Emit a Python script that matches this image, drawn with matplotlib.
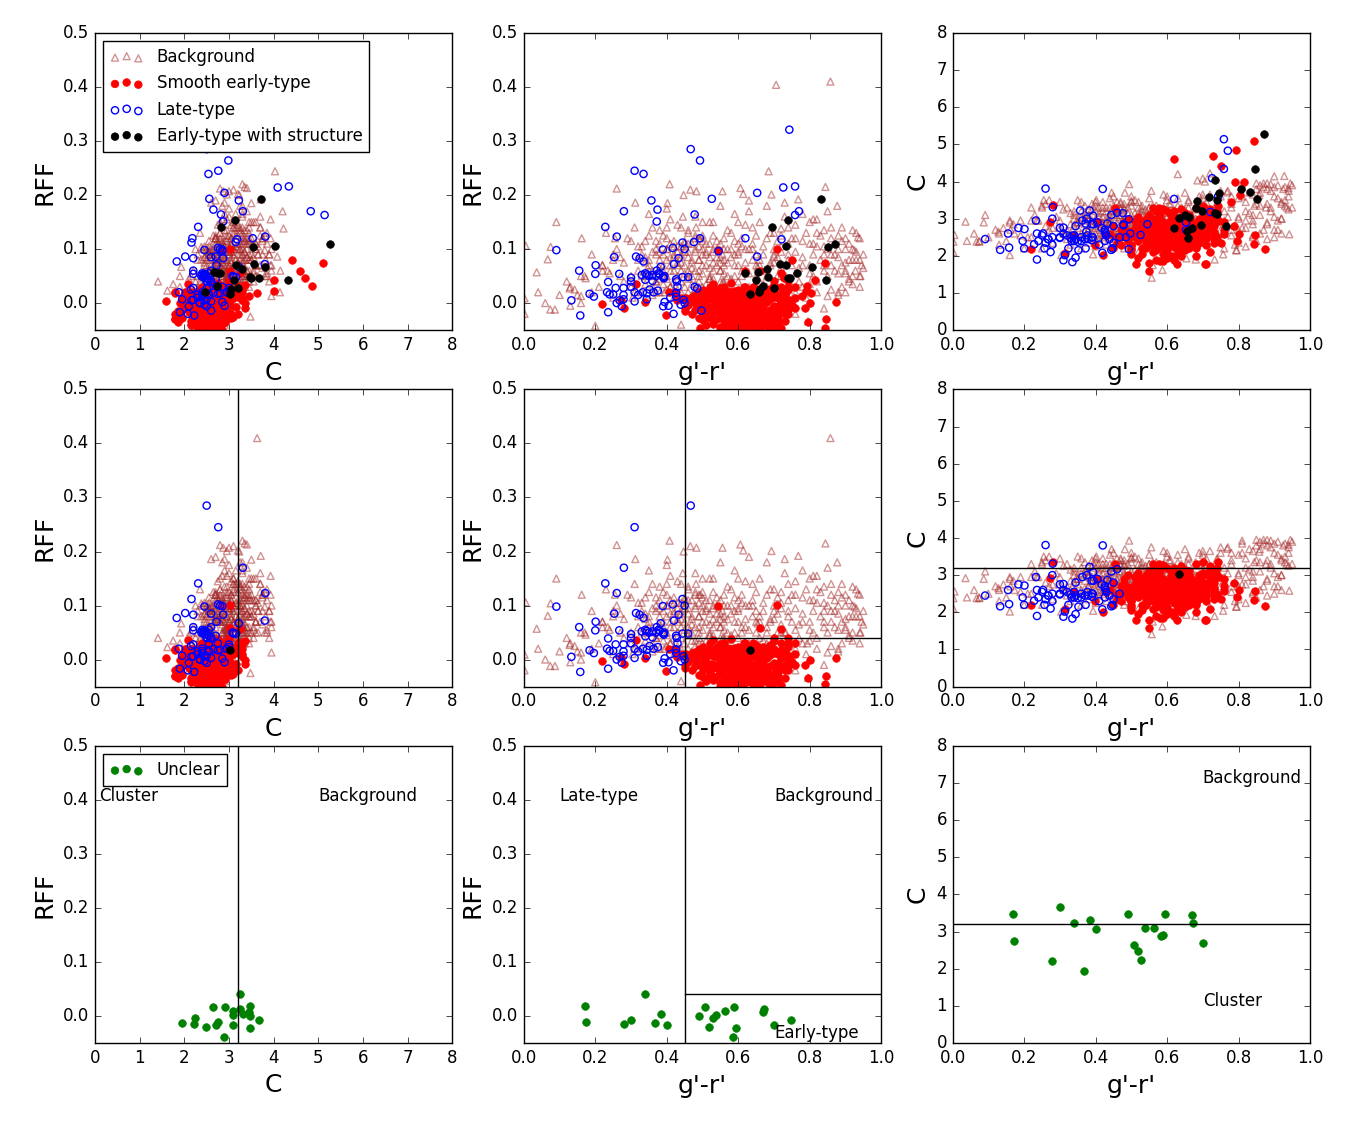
import matplotlib
matplotlib.use("Agg")
import matplotlib.pyplot as plt
import numpy as np

plt.style.use("classic")
plt.rcParams["font.family"] = ["DejaVu Sans"]

bg_gr = [
 .706,.858,.685,.408,.26,.466,.483,.447,.556,.606,
 .614,.693,.768,.844,.312,.402,.73,.877,.091,.036,
 .067,.075,.005,.162,.074,.087,.002,.002,.2,.128,
 .142,.16,.173,.795,.92,.935,.925,.94,.928,.942,
 .63,.494,.445,.482,.556,.88,.89,.557,.587,.733,
 .654,.757,.793,.16,.304,.393,.70,.90,.85,.81,
 .72,.945,.95,.13,.16,.22,.235,.255,.25,.34,
 .21,.24,.27,.29,.31,.33,.35,.37,.38,.39,
 .40,.41,.42,.43,.44,.45,.46,.47,.48,.49,
 .50,.51,.52,.53,.54,.55,.56,.57,.58,.59,
 .60,.61,.62,.63,.64,.65,.66,.67,.68,.69,
 .70,.71,.72,.73,.74,.75,.76,.77,.78,.79,
 .80,.81,.82,.83,.84,.85,.86,.87,.88,.89,
 .90,.91,.92,.93,.94,.95,.90,.88,.86,.84,
 .15,.17,.19,.22,.25,.28,.30,.32,.34,.36,
 .37,.38,.39,.40,.41,.42,.43,.44,.45,.46,
 .47,.48,.49,.50,.51,.52,.53,.54,.55,.56,
 .57,.58,.59,.60,.61,.62,.63,.64,.65,.66,
 .67,.68,.69,.70,.71,.72,.73,.74,.75,.76,
 .77,.78,.79,.80,.81,.82,.83,.84,.85,.86,
 .87,.88,.89,.90,.91,.92,.93,.94,.78,.82,
 .35,.37,.39,.41,.43,.45,.47,.49,.51,.53,
 .36,.38,.40,.42,.44,.46,.48,.50,.52,.54,
 .55,.57,.59,.61,.63,.65,.67,.69,.71,.73,
 .04,.06,.10,.12,.13,.19,.23,.26,.28,.31,
 .33,.35,.38,.41,.44,.47,.50,.53,.56,.59,
 .45,.48,.52,.56,.60,.64,.68,.72,.76,.80,
 .50,.44,.80,.84,.88,.92,.76,.72,.68,.64,
 .78,.81,.84,.87,.89,.91,.93,.82,.86,.90,
 .35,.40,.45,.50,.55,.60,.65,.70,.75,.80,
 .22,.25,.27,.30,.33,.36,.40,.43,.46,.49,
 .33,.35,.37,.39,.41,.43,.45,.47,.49,.51,
 .34,.36,.38,.40,.42,.44,.46,.48,.50,.52,
 .53,.55,.57,.59,.61,.63,.65,.53,.56,.60,
 .40,.42,.44,.46,.48,.50,.52,.54,.56,.58,
 .38,.41,.43,.45,.47,.49,.51,.53,.55,.57,
 .37,.39,.42,.44,.46,.48,.50,.52,.54,.56,
 .60,.62,.64,.66,.68,.70,.72,.74,.76,.78,
 .58,.60,.62,.64,.66,.68,.70,.72,.74,.76,
 .82,.84,.86,.88,.90,.92,.94,.80,.85,.91,
 .30,.32,.34,.36,.38,.40,.42,.44,.46,.48,
 .36,.39,.41,.43,.45,.47,.49,.51,.53,.55,
 .32,.34,.37,.40,.43,.46,.49,.52,.55,.58,
]
bg_rff = [
 .404,.41,.244,.22,.212,.21,.207,.2,.207,.213,
 .202,.201,.192,.215,.186,.185,.186,.18,.15,.057,
 .081,.104,.106,.12,-.012,-.012,.009,-.02,-.042,.027,
 .025,.013,.046,-.034,.135,.122,.098,.08,.06,.05,
 .17,.12,.16,.14,.09,.10,.07,.04,.023,.05,
 .067,.01,.03,.0,.01,.02,.086,.02,.013,.155,
 .138,.07,.09,.03,.05,.07,.06,.12,.09,.05,
 .03,.055,.085,.12,.02,.105,.165,.04,.135,.07,
 .175,.03,.09,.145,.06,.115,.02,.08,.16,.04,
 .125,.07,.15,.03,.10,.18,.055,.135,.085,.165,
 .04,.12,.075,.19,.10,.05,.15,.09,.18,.07,
 .13,.05,.105,.16,.08,.03,.145,.065,.115,.01,
 .15,.09,.04,.125,.07,.17,.025,.11,.055,.14,
 .10,.045,.08,.13,.03,.065,.12,.015,.09,.105,
 .015,.05,.02,.07,.01,.04,.115,.06,.085,.14,
 .10,.065,.125,.045,.155,.085,.025,.105,.07,.135,
 .05,.095,.03,.07,.11,.045,.125,.085,.06,.10,
 .075,.045,.115,.09,.06,.145,.03,.08,.125,.04,
 .105,.06,.13,.04,.085,.125,.02,.11,.07,.095,
 .04,.085,.13,.055,.11,.02,.08,.135,.05,.12,
 .09,.125,.03,.075,.11,.05,.095,.12,.165,.155,
 .07,.09,.05,.11,.075,.095,.065,.12,.09,.075,
 .03,.11,.08,.06,.14,.045,.10,.055,.085,.115,
 .04,.10,.07,.105,.055,.09,.035,.075,.115,.05,
 .02,.0,.015,.04,-.005,.09,.13,.10,.075,.14,
 .05,.125,.02,.06,.085,.11,.03,.15,.12,.05,
 .01,.025,.045,.035,.015,.02,.03,.05,.02,.035,
 -.025,-.04,.0,-.01,.02,.035,-.02,.015,-.015,.005,
 .07,.05,.09,.06,.115,.04,.08,.13,.14,.055,
 .08,.12,.10,.15,.06,.11,.07,.09,.12,.07,
 .06,.08,.05,.03,.09,.06,.10,.05,.13,.08,
 .02,.06,.04,.09,.03,.07,.11,.015,.05,.095,
 .075,.015,.095,.025,.115,.04,.085,.06,.10,.02,
 .06,.11,.03,.09,.05,.10,.02,.095,.08,.07,
 .05,.105,.02,.06,.125,.09,.05,.07,.04,.10,
 .08,.07,.095,.03,.075,.105,.01,.045,.085,.05,
 .115,.035,.04,.075,.095,.035,.115,.065,.02,.07,
 .095,.06,.11,.08,.05,.10,.065,.09,.055,.03,
 .13,.15,.10,.14,.07,.12,.075,.095,.14,.12,
 .105,.06,.07,.085,.06,.10,.05,.11,.10,.08,
 .05,.08,.115,.095,.045,.14,.01,.09,.05,.12,
 .05,.06,.085,.105,.055,.035,.08,.035,.10,.025,
 .105,.035,.02,.10,.015,.11,.06,.11,.075,.02,
]
bg_c = [
 4.0,3.63,4.03,3.3,2.8,3.1,3.0,3.23,2.87,3.4,
 3.2,2.95,3.71,3.35,2.6,3.5,2.9,3.3,3.1,2.92,
 2.38,2.38,2.56,2.7,2.4,2.9,2.38,2.1,2.2,2.65,
 2.75,2.95,2.6,2.15,3.4,3.3,3.8,3.82,4.15,2.58,
 4.2,3.93,3.7,3.7,3.75,3.95,3.93,1.41,1.62,1.9,
 1.93,2.04,2.15,2.02,2.02,2.04,4.08,4.14,3.95,3.93,
 4.22,3.95,3.9,2.6,2.9,2.95,2.95,3.5,3.3,3.1,
 2.5,2.95,2.7,3.05,2.6,3.15,2.9,2.5,3.25,2.8,
 3.0,2.55,3.2,2.75,2.95,3.35,2.6,2.85,3.3,2.7,
 3.1,2.9,3.45,2.65,3.25,2.85,3.0,3.35,2.75,3.15,
 2.9,3.4,3.05,2.7,3.3,2.95,3.5,3.1,3.25,3.6,
 2.8,3.3,3.65,3.0,3.45,2.7,3.2,3.75,2.55,2.3,
 3.55,2.75,2.25,3.7,3.1,3.4,2.6,3.85,2.9,3.3,
 3.6,2.95,3.45,3.85,3.25,3.3,2.7,2.45,3.9,2.85,
 2.4,2.85,2.95,2.5,2.2,2.35,2.75,3.3,2.45,3.45,
 2.65,3.1,2.95,3.35,2.85,2.6,3.2,3.0,2.45,2.9,
 3.4,2.55,3.15,2.8,3.5,2.95,2.7,3.05,3.3,2.6,
 2.85,3.2,2.95,3.5,2.7,3.05,3.35,2.6,3.15,3.45,
 2.75,3.0,3.3,3.55,2.9,3.2,2.6,3.4,3.6,2.85,
 3.05,3.4,2.8,2.45,3.6,2.75,3.15,2.95,3.8,3.35,
 2.7,3.8,3.2,3.05,3.55,2.6,3.35,3.75,3.3,2.95,
 2.75,2.85,2.6,3.05,3.3,2.7,3.1,2.8,3.0,3.2,
 3.2,2.7,2.9,3.45,3.1,2.75,3.25,3.35,2.65,2.9,
 2.95,3.1,3.3,2.8,3.55,3.25,2.9,2.85,3.45,3.15,
 2.4,2.6,2.5,2.7,2.3,2.55,3.1,3.4,2.75,3.25,
 2.85,3.0,2.35,3.15,3.55,3.45,2.45,3.1,2.95,3.65,
 2.25,2.2,2.1,1.75,1.95,2.05,1.9,2.15,2.2,2.35,
 3.48,2.91,2.7,2.5,2.85,3.0,2.6,2.4,2.55,3.2,
 3.6,3.85,3.65,3.95,3.75,3.9,3.5,3.45,3.7,3.85,
 3.5,3.45,3.6,3.6,3.55,3.6,3.7,3.65,3.75,3.0,
 3.3,3.35,3.5,3.45,2.3,2.2,2.25,2.3,2.35,2.3,
 2.6,2.9,3.1,2.5,2.8,3.0,3.2,2.55,3.3,2.6,
 3.2,2.6,3.0,2.75,3.3,2.5,2.85,3.4,2.7,3.15,
 2.55,3.3,2.75,3.0,3.15,2.85,2.7,3.35,3.05,2.65,
 2.6,3.05,2.85,3.2,2.65,3.45,3.0,2.8,3.35,2.55,
 2.95,2.7,2.55,3.1,3.3,2.9,2.75,3.25,2.6,3.0,
 3.35,3.25,2.5,2.75,3.05,2.9,2.85,3.3,2.7,3.2,
 3.05,2.95,2.75,3.3,3.35,3.1,2.85,2.55,2.95,2.7,
 3.25,2.8,3.2,3.1,2.6,2.7,3.2,3.0,3.15,2.7,
 3.2,2.55,3.1,3.4,2.5,3.0,3.6,3.05,2.4,2.7,
 2.95,2.7,2.8,3.05,2.7,3.2,2.9,3.3,3.45,3.05,
 2.5,3.4,2.45,2.9,2.6,3.25,2.5,3.15,2.5,3.05,
 2.45,3.0,3.0,2.45,2.7,3.25,2.6,2.85,2.45,2.95,
]

red_gr = [
 .842,.793,.728,.619,.75,.79,.815,.805,.778,.743,
 .787,.76,.845,.842,.873,.627,.706,.71,.55,.512,
 .709,.544,.22,.272,.281,.314,.422,.453,.577,.588,
 .46,.48,.50,.52,.54,.56,.58,.60,.62,.64,
 .47,.49,.51,.53,.55,.57,.59,.61,.63,.65,
 .66,.67,.68,.69,.70,.71,.72,.73,.74,.75,
 .44,.45,.50,.52,.55,.58,.60,.62,.64,.66,
 .53,.55,.56,.57,.59,.60,.61,.63,.64,.65,
 .56,.57,.58,.59,.60,.61,.62,.63,.65,.66,
 .67,.68,.69,.70,.71,.72,.62,.60,.58,.54,
 .48,.51,.53,.55,.57,.59,.61,.63,.65,.67,
 .49,.51,.54,.56,.58,.60,.62,.64,.66,.68,
 .52,.53,.54,.57,.59,.61,.63,.65,.67,.69,
 .70,.71,.72,.73,.74,.76,.74,.745,.66,.64,
 .55,.58,.60,.62,.64,.52,.50,.57,.59,.68,
 .56,.60,.64,.68,.72,.74,.73,.70,.66,.62,
 .55,.58,.60,.62,.66,.69,.72,.494,.50,.63,
 .795,.76,.73,.74,.80,.47,.45,.43,.398,.34,
 .58,.53,.66,.72,.494,.407,.72,.70,.56,.616,
 .50,.52,.54,.56,.58,.60,.62,.64,.66,.68,
 .51,.53,.55,.57,.59,.61,.63,.65,.67,.69,
 .57,.59,.61,.63,.65,.67,.69,.71,.73,.49,
 .46,.48,.50,.52,.54,.56,.58,.60,.62,.64,
 .55,.57,.59,.61,.63,.65,.67,.69,.71,.73,
 .52,.54,.56,.58,.60,.62,.64,.66,.68,.70,
 .60,.61,.62,.63,.64,.65,.66,.67,.68,.70,
 .53,.55,.57,.59,.61,.63,.47,.49,.51,.66,
]
red_rff = [
 .075,.031,.046,.059,.079,.023,.043,.018,.013,.0,
 -.01,-.01,-.03,-.046,.002,-.03,-.02,-.03,.003,.02,
 .101,.099,-.002,.005,-.009,.036,.02,.01,.02,.01,
 .005,-.012,.012,-.025,.024,-.004,-.036,.016,-.018,.006,
 -.02,.02,-.006,.01,-.044,.002,.022,-.028,.012,-.041,
 .004,-.03,.016,-.012,.02,-.038,.006,-.02,.03,-.004,
 .01,-.015,-.032,.03,.012,-.012,-.046,.004,-.028,.018,
 -.038,-.022,.022,-.032,-.008,.024,-.014,-.04,.014,-.008,
 -.014,.012,.005,-.044,-.006,.01,-.034,-.006,.026,-.02,
 .012,-.042,.026,-.006,.01,-.016,.018,-.022,.016,-.016,
 .0,-.04,-.008,.004,-.048,.008,-.048,-.016,-.03,-.014,
 -.028,.004,-.03,-.034,-.026,.0,-.008,-.048,-.044,.002,
 .014,.006,.004,-.02,-.016,.006,.024,-.018,-.006,-.026,
 -.044,-.024,.002,-.034,-.012,.01,-.02,.006,-.036,.028,
 .018,-.035,.005,-.02,-.01,-.028,-.008,.0,-.015,.012,
 .026,.012,.03,.006,.018,.024,.016,.034,.022,.03,
 -.05,-.042,-.05,-.044,-.05,-.048,-.047,-.047,-.02,-.03,
 -.035,.03,-.01,.04,.0,.008,-.01,.005,-.022,.002,
 .038,.036,.059,.056,-.01,.02,.03,.04,.03,.03,
 .002,-.018,.016,-.028,.01,-.02,.008,-.03,.0,-.024,
 -.012,.018,-.006,.02,-.036,.014,-.026,.012,-.022,.016,
 -.008,-.03,-.002,.002,-.012,-.038,.008,-.006,.014,.01,
 -.004,.014,.024,-.008,-.014,.008,-.004,-.038,.022,-.014,
 .028,-.024,.012,-.016,-.034,.004,.024,-.034,-.014,.004,
 -.02,.008,-.042,.02,.006,-.012,.018,-.026,-.018,.012,
 -.01,-.026,-.04,.014,-.02,-.034,.01,.006,.01,-.03,
 -.016,-.01,.014,.0,-.042,-.022,.012,-.006,.016,-.012,
]
red_c = [
 5.1,4.85,4.7,4.6,4.42,4.0,4.0,3.63,3.44,3.35,
 2.79,2.58,2.56,2.33,2.17,1.78,1.78,1.78,1.58,1.78,
 3.03,2.85,2.19,2.92,3.36,2.08,2.01,3.29,3.3,3.27,
 2.35,2.6,2.2,2.75,2.45,2.1,2.9,2.5,2.25,2.8,
 2.7,2.4,2.95,2.05,2.55,3.0,2.3,2.65,2.85,2.15,
 2.4,2.6,2.2,2.9,2.55,2.3,2.75,2.45,2.95,2.35,
 2.6,2.8,2.3,2.85,3.1,2.4,2.7,2.0,3.05,2.65,
 2.2,2.95,2.3,2.5,2.75,2.85,2.35,2.6,2.4,3.15,
 2.7,2.25,2.55,2.8,2.15,3.1,2.45,2.9,2.5,2.2,
 2.9,2.75,2.35,3.05,2.6,2.1,3.0,2.35,2.65,2.5,
 2.9,2.5,2.65,2.3,2.35,2.05,2.55,2.7,2.75,2.45,
 2.55,2.7,2.85,2.45,3.1,2.6,2.5,2.3,2.65,2.5,
 2.45,2.9,2.2,3.2,2.3,2.0,2.4,2.85,2.3,2.6,
 2.8,2.5,2.95,2.65,2.4,2.7,2.5,2.95,2.9,2.7,
 1.8,1.85,1.95,1.9,2.0,1.95,2.05,1.9,1.85,2.0,
 3.3,3.2,3.25,3.3,3.15,3.2,3.1,3.35,3.1,3.2,
 2.6,2.5,2.75,2.4,2.85,2.55,2.7,2.65,2.15,2.55,
 2.4,2.9,2.8,3.0,2.6,2.5,2.2,2.55,2.3,2.55,
 2.75,2.6,3.02,3.25,2.5,2.9,2.8,3.0,2.5,2.4,
 2.3,2.55,2.8,2.95,2.35,2.7,3.05,2.45,2.85,2.25,
 2.75,2.6,2.4,2.15,2.65,2.4,2.55,2.95,2.5,2.75,
 2.85,2.2,2.9,2.35,2.6,2.85,3.0,2.45,2.55,2.65,
 2.5,2.75,2.65,2.4,3.0,2.8,2.25,2.45,2.6,2.7,
 2.6,2.7,2.45,3.0,2.15,2.3,2.55,2.4,2.8,2.35,
 3.05,2.35,2.55,2.95,2.3,2.85,2.6,2.5,2.4,2.7,
 2.5,2.55,2.7,2.45,2.65,2.75,2.6,2.4,2.8,2.65,
 2.5,2.7,2.6,2.9,2.8,2.4,2.3,3.0,2.55,2.55,
]

late_gr = [
 .743,.467,.493,.31,.335,.726,.759,.653,.526,.357,
 .28,.374,.478,.77,.759,.372,.228,.26,.62,.721,
 .493,.476,.444,.417,.45,.389,.091,.545,.253,.653,
 .314,.324,.335,.433,.42,.201,.2,.155,.267,.383,
 .372,.377,.393,.392,.344,.34,.36,.30,.30,.236,
 .428,.426,.444,.46,.478,.485,.257,.279,.3,.233,
 .24,.25,.184,.196,.133,.158,.236,.497,.419,.39,
 .405,.439,.447,.394,.426,.426,.375,.352,.363,.344,
 .333,.32,.31,.31,.344,.279,.279,.274,.26,.268,
 .36,.37,.38,.35,.39,.34,.33,.41,.43,.45,
]
late_rff = [
 .321,.285,.264,.245,.239,.214,.216,.204,.193,.19,
 .17,.173,.164,.17,.163,.151,.141,.123,.12,.118,
 .12,.113,.112,.102,.10,.099,.098,.096,.085,.086,
 .086,.083,.077,.083,.072,.07,.054,.06,.054,.067,
 .06,.055,.05,.046,.053,.043,.041,.047,.04,.039,
 .04,.044,.048,.048,.03,.027,.028,.028,.03,.02,
 .016,.016,.017,.012,.005,-.023,-.017,-.014,-.02,-.006,
 -.005,-.003,.006,.002,.019,.012,.023,.025,.02,.018,
 .02,.015,.02,.003,.007,.015,.007,-.006,.0,.005,
 .052,.05,.053,.05,.048,.055,.052,.01,.03,.0,
]
late_c = [
 3.6,2.5,2.985,2.76,2.54,4.09,4.34,2.9,2.56,3.22,
 3.31,2.65,2.82,4.83,5.14,2.87,2.31,3.81,3.53,3.18,
 2.18,3.15,2.16,2.75,2.8,2.85,2.45,2.85,2.6,2.7,
 2.02,2.2,1.83,2.87,3.8,2.72,2.2,2.6,2.45,3.22,
 2.2,2.55,3.08,2.5,2.45,2.55,2.5,2.48,2.5,2.6,
 2.6,2.7,3.1,3.16,2.85,2.5,2.2,3.0,2.75,2.95,
 2.4,2.55,2.75,2.4,2.16,2.22,1.9,2.6,2.08,2.5,
 2.9,2.45,2.2,2.85,2.65,2.4,3.0,2.15,2.95,2.8,
 2.4,2.55,1.88,2.6,1.95,2.3,2.5,2.1,2.35,2.45,
 2.4,2.45,2.45,2.38,2.42,2.4,2.48,2.3,2.55,2.35,
]

struct_gr = [.833,.74,.695,.871,.733,.851,.717,.733,.807,.681,.765,.656,
             .62,.684,.74,.746,.846,.65,.67,.661,.659,.699,.634]
struct_rff = [.192,.153,.14,.109,.105,.104,.072,.07,.066,.063,.056,.057,
              .055,.049,.047,.046,.042,.042,.031,.026,.02,.027,.017]
struct_c = [3.71,3.13,2.83,5.27,4.04,3.53,3.57,3.16,3.81,3.3,2.79,2.67,
            2.76,3.47,3.5,3.68,4.33,3.11,2.74,3.05,2.47,3.2,3.03]

unclear_gr = [.17,.173,.279,.301,.34,.385,.368,.402,.491,.508,.519,
              .528,.537,.564,.589,.584,.594,.673,.67,.70,.748]
unclear_rff = [.0185,-.011,-.015,-.007,.041,.004,-.013,-.017,.0,.017,-.02,
               -.004,.002,.009,.017,-.039,-.022,.013,.007,-.017,-.007]
unclear_c = [3.48,2.75,2.21,3.67,3.24,3.32,1.94,3.08,3.48,2.64,2.48,
             2.24,3.1,3.1,2.91,2.89,3.48,3.24,3.45,2.7,np.nan]

C_CUT = 3.2
GR_CUT = 0.45
RFF_CUT = 0.04


def arr(*lists):
    n = min(len(v) for v in lists)
    return [np.array(v[:n], dtype=float) for v in lists]


BG = arr(bg_gr, bg_rff, bg_c)
RED = arr(red_gr, red_rff, red_c)
LATE = arr(late_gr, late_rff, late_c)
STRUCT = arr(struct_gr, struct_rff, struct_c)
UNCLEAR = arr(unclear_gr, unclear_rff, unclear_c)


def sel(d, mask):
    return [v[mask] for v in d]


BG2 = sel(BG, BG[2] <= 3.95)
RED2 = sel(RED, RED[2] < 3.4)
LATE2 = sel(LATE, (LATE[0] < 0.47) & ~((LATE[1] > 0.13) & (LATE[0] > 0.33) & (LATE[0] < 0.45)))
STRUCT2 = sel(STRUCT, STRUCT[1] < 0.018)

fig, axes = plt.subplots(3, 3, figsize=(13.5, 11.22), dpi=100, facecolor="white")
fig.subplots_adjust(left=95/1350, right=1310/1350, top=1-33/1122, bottom=1-1043/1122,
                    wspace=0.2, hspace=0.2)


def style(ax, kind):
    if kind == "rc":
        ax.set_xlim(0, 8); ax.set_ylim(-0.05, 0.5)
        ax.set_xlabel("C", fontsize=18); ax.set_ylabel("RFF", fontsize=18)
    elif kind == "rg":
        ax.set_xlim(0, 1); ax.set_ylim(-0.05, 0.5)
        ax.set_xlabel("g'-r'", fontsize=18); ax.set_ylabel("RFF", fontsize=18)
    else:
        ax.set_xlim(0, 1); ax.set_ylim(0, 8)
        ax.set_xlabel("g'-r'", fontsize=18); ax.set_ylabel("C", fontsize=18)
    ax.tick_params(labelsize=12)


def xy(d, kind):
    if kind == "rc":
        return d[2], d[1]
    if kind == "rg":
        return d[0], d[1]
    return d[0], d[2]


def draw(ax, kind, bg, red, late, struct):
    x, y = xy(bg, kind)
    ax.scatter(x, y, s=25, marker="^", facecolors="none", edgecolors="brown",
               alpha=0.5, linewidths=1.0, label="Background")
    x, y = xy(red, kind)
    ax.scatter(x, y, s=30, marker="o", c="red", edgecolors="red", linewidths=0.5,
               label="Smooth early-type")
    x, y = xy(late, kind)
    ax.scatter(x, y, s=27, marker="o", facecolors="none", edgecolors="blue",
               linewidths=1.0, label="Late-type")
    x, y = xy(struct, kind)
    ax.scatter(x, y, s=30, marker="o", c="black", edgecolors="black", linewidths=0.5,
               label="Early-type with structure")


kinds = ["rc", "rg", "cg"]
for j, k in enumerate(kinds):
    draw(axes[0, j], k, BG, RED, LATE, STRUCT)
    draw(axes[1, j], k, BG2, RED2, LATE2, STRUCT2)
    x, y = xy(UNCLEAR, k)
    axes[2, j].scatter(x, y, s=30, marker="o", c="green", edgecolors="green",
                       linewidths=0.5, label="Unclear")
    for i in range(3):
        style(axes[i, j], k)

axes[0, 0].legend(loc="upper left", fontsize=12, scatterpoints=3, frameon=True)
axes[2, 0].legend(loc="upper left", fontsize=12, scatterpoints=3, frameon=True)

for i in (1, 2):
    axes[i, 0].axvline(C_CUT, color="k", lw=1)
    axes[i, 1].axvline(GR_CUT, color="k", lw=1)
    axes[i, 1].plot([GR_CUT, 1], [RFF_CUT, RFF_CUT], color="k", lw=1)
    axes[i, 2].axhline(C_CUT, color="k", lw=1)

tkw = dict(fontsize=12, color="k")
axes[2, 0].text(0.1, 0.398, "Cluster", **tkw)
axes[2, 0].text(5.0, 0.398, "Background", **tkw)
axes[2, 1].text(0.1, 0.398, "Late-type", **tkw)
axes[2, 1].text(0.7, 0.398, "Background", **tkw)
axes[2, 1].text(0.7, -0.04, "Early-type", **tkw)
axes[2, 2].text(0.7, 7.0, "Background", **tkw)
axes[2, 2].text(0.7, 1.0, "Cluster", **tkw)

fig.savefig("out.png", dpi=100, facecolor="white")
